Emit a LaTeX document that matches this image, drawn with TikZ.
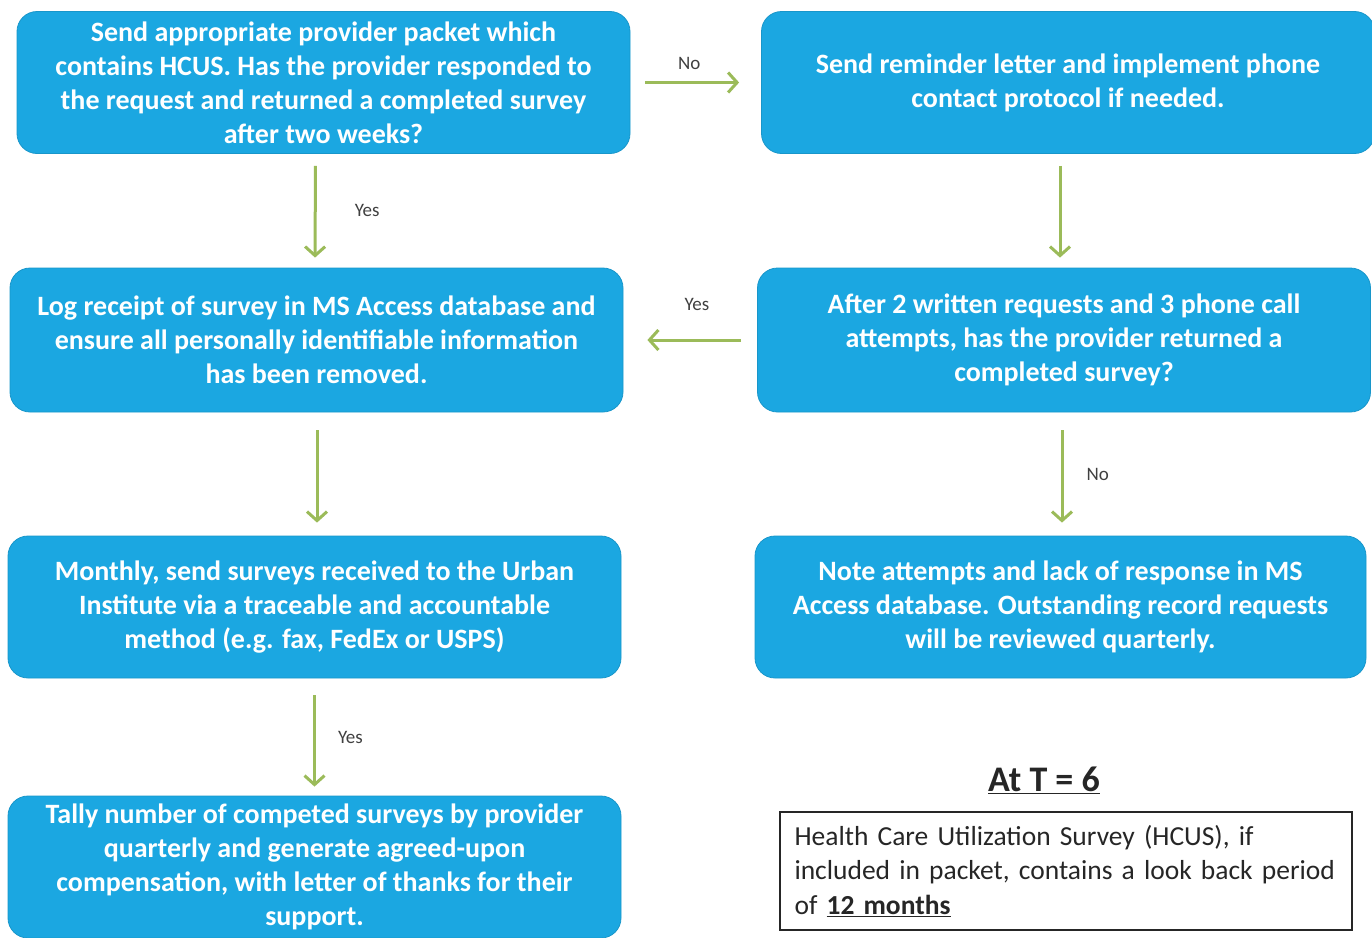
\documentclass[tikz,border=0pt]{standalone}
\usepackage{fontspec}
\setmainfont{Carlito}
\usetikzlibrary{arrows.meta}
\definecolor{boxblue}{HTML}{1BA7E1}
\definecolor{arrowgreen}{HTML}{9BBB59}
\definecolor{labelgray}{HTML}{404040}
\tikzset{
  flowbox/.style={draw=boxblue!90!black, line width=0.8pt, fill=boxblue, rounded corners=20pt,
    minimum width=613pt, minimum height=142pt, align=center,
    text=white, font=\fontsize{28}{34}\selectfont\bfseries, inner sep=0pt},
  flow/.style={draw=arrowgreen, line width=3pt,
    -{Straight Barb[length=9pt,width=20pt,line width=3pt]}},
  answer/.style={font=\fontsize{19}{20}\selectfont, text=labelgray, inner sep=0pt},
  notebox/.style={draw=black!85, line width=1.3pt, minimum width=572pt, minimum height=118pt,
    text width=543pt, align=left, font=\fontsize{27.5}{34.5}\selectfont, text=black!85, inner sep=0pt}
}
\begin{document}
\begin{tikzpicture}[x=1pt,y=-1pt]
\useasboundingbox (0,0) rectangle (1372,937);
\clip (0,0) rectangle (1372,937);

% process boxes
\node[flowbox] (b1) at (323.5,82.5) {Send appropriate provider packet which\\ contains HCUS. Has the provider responded to\\ the request and returned a completed survey\\ after two weeks?};
\node[flowbox] (b2) at (1068,82.5) {Send reminder letter and implement phone\\ contact protocol if needed.};
\node[flowbox, minimum height=144pt] (b3) at (316.5,340) {Log receipt of survey in MS Access database and\\ ensure all personally identifiable information\\ has been removed.};
\node[flowbox, minimum height=144pt] (b4) at (1064,340) {After 2 written requests and 3 phone call\\ attempts, has the provider returned a\\ completed survey?};
\node[flowbox] (b5) at (314.5,607) {Monthly, send surveys received to the Urban\\ Institute via a traceable and accountable\\ method (e.g. fax, FedEx or USPS)};
\node[flowbox, minimum width=611pt] (b6) at (1060.5,607) {Note attempts and lack of response in MS\\ Access database. Outstanding record requests\\ will be reviewed quarterly.};
\node[flowbox] (b7) at (314.5,867) {Tally number of competed surveys by provider\\ quarterly and generate agreed-upon\\ compensation, with letter of thanks for their\\ support.};

% note at the lower right
\node[font=\fontsize{36}{40}\selectfont\bfseries, text=black!85, inner sep=0pt] (title) at (1044,780) {\underline{At T = 6}};
\node[notebox] (note) at (1066,871) {Health Care Utilization Survey (HCUS), if\\ included in packet, contains a look back period\\ of \textbf{\underline{12 months}}};

% connectors
\draw[flow, shorten <=15pt, shorten >=22pt] (b1.east) -- (b2.west) node[answer, pos=0.45, above=11pt] (l1) {No};
\draw[flow, shorten <=12pt, shorten >=10pt] ([xshift=-8pt]b1.south) -- ([xshift=-1.5pt]b3.north) node[answer, pos=0.5, right=38pt] (l2) {Yes};
\draw[flow, shorten <=12pt, shorten >=10pt] ([xshift=-8pt]b2.south) -- ([xshift=-4pt]b4.north);
\draw[flow, shorten <=16pt, shorten >=24pt] (b4.west) -- (b3.east) node[answer, pos=0.45, above=28pt] (l3) {Yes};
\draw[flow, shorten <=18pt, shorten >=13pt] ([xshift=0.5pt]b3.south) -- ([xshift=2.5pt]b5.north);
\draw[flow, shorten <=18pt, shorten >=13pt] ([xshift=-2pt]b4.south) -- ([xshift=1.5pt]b6.north) node[answer, pos=0.5, right=23pt] (l4) {No};
\draw[flow, shorten <=17pt, shorten >=9pt] (b5.south) -- (b7.north) node[answer, pos=0.5, right=22pt] (l5) {Yes};
\end{tikzpicture}
\end{document}
